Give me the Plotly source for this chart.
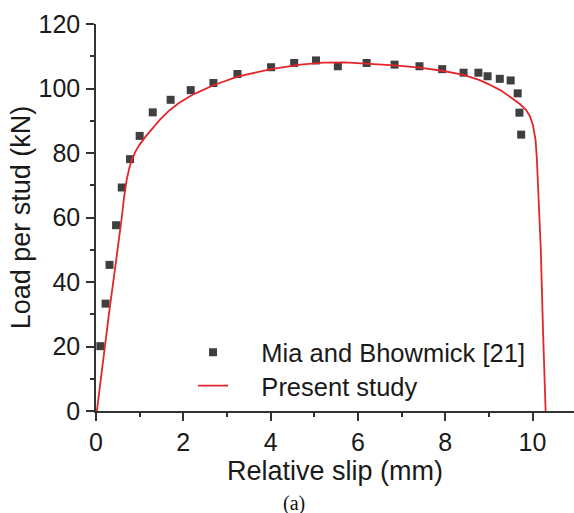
import plotly.graph_objects as go

# Push-out test data (Mia and Bhowmick [21]): relative slip (mm) vs load per stud (kN)
test_slip = [0.10, 0.22, 0.31, 0.46, 0.59, 0.78, 1.00, 1.30, 1.71, 2.17, 2.69, 3.24,
             4.01, 4.54, 5.04, 5.54, 6.20, 6.84, 7.41, 7.93, 8.42, 8.76, 8.97, 9.25,
             9.50, 9.66, 9.70, 9.74]
test_load = [20.1, 33.3, 45.3, 57.6, 69.3, 78.1, 85.3, 92.6, 96.5, 99.5, 101.7, 104.5,
             106.6, 107.9, 108.7, 106.9, 107.9, 107.4, 106.9, 106.0, 104.9, 104.9, 103.8, 103.0,
             102.5, 98.5, 92.5, 85.7]

# Numerical model (present study)
model_slip = [0.02, 0.16, 0.30, 0.45, 0.56, 0.59, 0.64, 0.70, 0.76, 0.83, 0.91, 1.00,
              1.13, 1.30, 1.47, 1.68, 1.89, 2.23, 2.69, 3.24, 4.01, 4.68, 5.21, 5.70,
              6.20, 6.84, 7.41, 7.93, 8.42, 8.79, 9.00, 9.26, 9.50, 9.71, 9.85, 9.94,
              10.01, 10.07, 10.10, 10.13, 10.17, 10.19, 10.24, 10.30]
model_load = [0.0, 16.0, 30.5, 45.5, 56.0, 60.0, 66.0, 71.5, 75.2, 78.2, 80.6, 82.6,
              85.0, 87.8, 90.4, 93.2, 95.4, 98.2, 101.0, 103.7, 106.0, 107.4, 108.0, 108.1,
              107.8, 107.2, 106.5, 105.5, 104.2, 102.6, 101.3, 99.5, 97.3, 95.2, 93.4, 91.4,
              88.6, 84.0, 78.0, 68.5, 55.1, 49.9, 25.0, 0.0]

FONT = "Liberation Sans, Arial, sans-serif"
AXIS_COLOR = "#333333"
TEXT_COLOR = "#1a1a1a"
PAD = "\u00a0\u00a0\u00a0\u00a0"

fig = go.Figure()
fig.add_trace(go.Scatter(
    x=test_slip, y=test_load, mode="markers", name=PAD + "Mia and Bhowmick [21]",
    marker=dict(symbol="square", size=8, color="#3f3f3f", line=dict(width=0)),
    legend="legend",
))
fig.add_trace(go.Scatter(
    x=model_slip, y=model_load, mode="lines", name=PAD + "Present study",
    line=dict(color="#e3262b", width=1.8),
    legend="legend2",
))

axis_common = dict(
    showline=True, linecolor=AXIS_COLOR, linewidth=1.5,
    ticks="outside", ticklen=8, tickwidth=1.5, tickcolor=AXIS_COLOR,
    showgrid=False, zeroline=False,
    tickfont=dict(family=FONT, size=25, color=TEXT_COLOR),
    title_font=dict(family=FONT, size=27, color=TEXT_COLOR),
)

fig.update_xaxes(
    range=[0, 10.95], tickvals=[0, 2, 4, 6, 8, 10],
    minor=dict(ticks="outside", ticklen=4, tickwidth=1.5, tickcolor=AXIS_COLOR, dtick=1, tick0=0),
    title_text="Relative slip (mm)", title_standoff=0,
    **axis_common,
)
fig.update_yaxes(
    range=[0, 120], tickvals=[0, 20, 40, 60, 80, 100, 120],
    minor=dict(ticks="outside", ticklen=4, tickwidth=1.5, tickcolor=AXIS_COLOR, dtick=10, tick0=0),
    title_text="Load per stud (kN)", title_standoff=0,
    ticklabelstandoff=1,
    **axis_common,
)

legend_common = dict(
    xanchor="left", yanchor="middle",
    bgcolor="rgba(0,0,0,0)", borderwidth=0,
    font=dict(family=FONT, size=25.5, color=TEXT_COLOR),
)

fig.update_layout(
    width=574, height=513,
    margin=dict(l=96, r=0, t=24, b=102, autoexpand=False),
    paper_bgcolor="white", plot_bgcolor="white",
    showlegend=True,
    legend=dict(x=0.203, y=0.1506, **legend_common),
    legend2=dict(x=0.203, y=0.0646, **legend_common),
    annotations=[dict(
        text="(a)", x=0.414, y=-0.238, xref="paper", yref="paper",
        xanchor="center", yanchor="middle", showarrow=False,
        font=dict(family="Liberation Serif, Times New Roman, serif", size=20, color="#111111"),
    )],
)

fig.write_html("out.html")
